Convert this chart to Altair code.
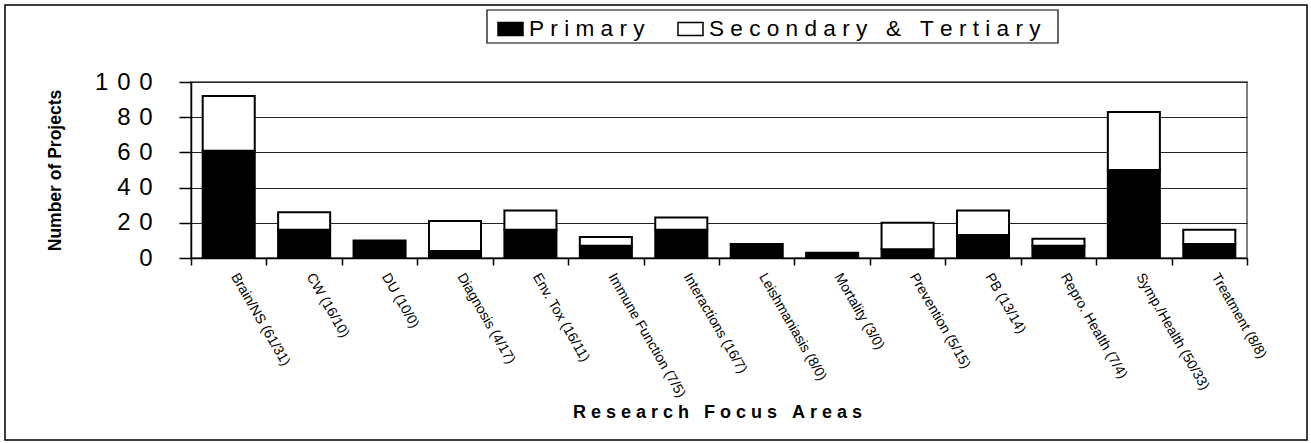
import altair as alt
import pandas as pd

categories = ["Brain/NS (61/31)", "CW (16/10)", "DU (10/0)", "Diagnosis (4/17)",
              "Env. Tox (16/11)", "Immune Function (7/5)", "Interactions (16/7)",
              "Leishmaniasis (8/0)", "Mortality (3/0)", "Prevention (5/15)",
              "PB (13/14)", "Repro. Health (7/4)", "Symp./Health (50/33)",
              "Treatment (8/8)"]
primary = [61, 16, 10, 4, 16, 7, 16, 8, 3, 5, 13, 7, 50, 8]
secondary = [31, 10, 0, 17, 11, 5, 7, 0, 0, 15, 14, 4, 33, 8]
series = ["Primary", "Secondary & Tertiary"]
y_ticks = [0, 20, 40, 60, 80, 100]

rows = []
for c, p, s in zip(categories, primary, secondary):
    rows.append({"category": c, "series": series[0], "value": p, "ord": 0})
    if s > 0:
        rows.append({"category": c, "series": series[1], "value": s, "ord": 1})
df = pd.DataFrame(rows)

FONT = "Liberation Sans"
NB = "\u00a0"
legend_expr = "join(split(datum.label, ''), '" + NB + "')"
ylab_expr = "join(split(datum.label, ''), '" + NB + "\u200a')"
x_title = NB.join(list("Research Focus Areas"))

bars = alt.Chart(df).mark_bar(stroke="black", strokeWidth=2,
                              width=alt.RelativeBandSize(0.69)).encode(
    x=alt.X("category:N", sort=categories,
            scale=alt.Scale(paddingInner=0, paddingOuter=0),
            axis=alt.Axis(title=x_title,
                          labelAngle=60, labelAlign="left", labelBaseline="middle",
                          tickBand="extent", tickSize=7, labelPadding=9, labelOffset=5,
                          labelFontSize=14, labelFont=FONT, labelColor="black",
                          labelOverlap=False, labelLimit=300,
                          grid=False, domainColor="black", domainWidth=1.5,
                          tickColor="black", tickWidth=1.5,
                          titleFont=FONT, titleFontSize=18, titleFontWeight="bold",
                          titleColor="black", titleY=154, titleX=526,
                          titleBaseline="middle")),
    y=alt.Y("value:Q", stack="zero", scale=alt.Scale(domain=[0, 100], nice=False),
            axis=alt.Axis(values=y_ticks, title="Number of Projects",
                          labelExpr=ylab_expr, labelFontSize=24, labelFont=FONT,
                          labelColor="black", labelPadding=27, tickSize=12,
                          tickColor="black", tickWidth=1.5,
                          domainColor="black", domainWidth=1.5,
                          gridColor="#222222", gridWidth=1,
                          titleFont=FONT, titleFontSize=17.5, titleFontWeight="bold",
                          titleColor="black", titleX=-136, titleY=88,
                          titleAngle=-90, titleAlign="center", titleBaseline="middle")),
    color=alt.Color("series:N", scale=alt.Scale(domain=series, range=["black", "white"]),
                    legend=alt.Legend(title=None, orient="none", legendX=306, legendY=-67,
                                      direction="horizontal", labelExpr=legend_expr,
                                      labelFont=FONT, labelFontSize=22.6, labelColor="black",
                                      labelLimit=600,
                                      symbolType="M-1,-0.52H1V0.52H-1Z", symbolSize=625,
                                      symbolStrokeColor="black", symbolStrokeWidth=1.5,
                                      columnPadding=30, labelOffset=5, padding=0)),
    order=alt.Order("ord:Q"),
)

frame = alt.Chart(alt.Data(values=[{"f": 1}])).mark_rect(
    fill=None, stroke="black", strokeWidth=1.5
).encode(x=alt.value(-186), x2=alt.value(1116), y=alt.value(-77), y2=alt.value(358))

legend_box = alt.Chart(alt.Data(values=[{"f": 1}])).mark_rect(
    fill="white", stroke="black", strokeWidth=1.2
).encode(x=alt.value(296), x2=alt.value(867), y=alt.value(-72), y2=alt.value(-39))

chart = alt.layer(frame, legend_box, bars).properties(
    width=1056, height=176,
    autosize=alt.AutoSizeParams(type="none"),
    padding={"left": 191, "top": 82, "right": 64, "bottom": 185},
    background="white",
).configure_view(stroke="#808080", strokeWidth=2)

chart.save("out.html", embed_options={"renderer": "svg", "actions": False})
